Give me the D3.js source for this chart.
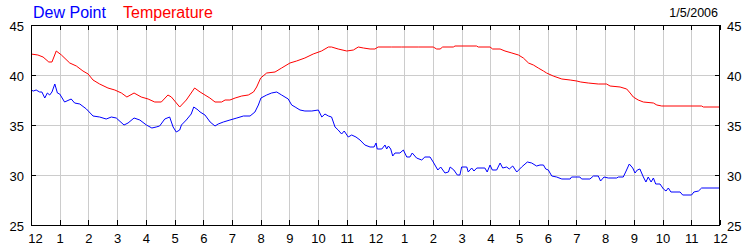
<!DOCTYPE html>
<html>
<head>
<meta charset="utf-8">
<script src="https://cdn.jsdelivr.net/npm/d3@7"></script>
<style>
  html, body { margin: 0; padding: 0; background: #fff; }
  svg { display: block; }
</style>
</head>
<body>
<svg id="chart" width="750" height="250"></svg>
<script>
// ---- data ----
const dateLabel = "1/5/2006";
const seriesNames = ["Dew Point", "Temperature"];
const xTickLabels = ["12","1","2","3","4","5","6","7","8","9","10","11","12","1","2","3","4","5","6","7","8","9","10","11","12"];
const yTicks = [25, 30, 35, 40, 45];
const yGrid = [30, 35, 40];

const tempHours = [0,0.24,0.42,0.62,0.73,0.88,1.06,1.35,1.58,1.81,1.99,2.16,2.39,2.68,2.92,3.15,3.34,3.59,3.84,4.08,4.31,4.54,4.77,4.89,5.18,5.41,5.70,5.89,6.06,6.23,6.41,6.64,6.76,6.93,7.11,7.34,7.57,7.75,7.86,8.00,8.21,8.50,8.73,9.02,9.25,9.54,9.83,10.12,10.36,10.47,10.70,11.00,11.23,11.40,11.58,11.81,11.98,12.09,12.56,12.91,13.01,13.49,14.01,14.13,14.25,14.34,14.71,14.77,15.52,15.58,15.99,16.08,16.34,16.51,16.75,16.98,17.15,17.33,17.50,17.67,17.85,17.96,18.19,18.49,18.78,19.01,19.15,19.41,19.76,20.05,20.17,20.52,20.75,20.87,20.98,21.15,21.33,21.68,21.80,21.97,23.36,23.42,24];
const tempValues = [42.1,42.0,41.8,41.3,41.3,42.4,42.0,41.2,40.9,40.4,40.1,39.5,39.1,38.7,38.5,38.2,37.8,38.2,37.8,37.6,37.3,37.3,38.0,37.8,36.8,37.5,38.7,38.3,38.0,37.7,37.3,37.3,37.5,37.5,37.7,37.9,38.0,38.3,38.8,39.7,40.2,40.3,40.7,41.2,41.4,41.7,42.1,42.4,42.8,42.8,42.6,42.4,42.5,42.8,42.7,42.6,42.6,42.8,42.8,42.8,42.8,42.8,42.8,42.6,42.6,42.8,42.8,42.9,42.9,42.8,42.8,42.6,42.6,42.4,42.2,42.0,41.7,41.2,41.0,40.7,40.4,40.2,39.9,39.6,39.5,39.4,39.3,39.2,39.1,39.1,38.9,38.8,38.6,38.2,37.8,37.5,37.3,37.2,37.0,36.9,36.9,36.8,36.8];

const dewHours = [0,0.08,0.18,0.30,0.38,0.48,0.57,0.65,0.73,0.83,0.92,1.00,1.17,1.40,1.52,1.70,1.93,2.16,2.39,2.62,2.80,2.97,3.24,3.38,3.59,3.79,4.02,4.21,4.36,4.48,4.66,4.83,4.95,5.06,5.18,5.24,5.41,5.58,5.67,5.82,5.89,6.06,6.24,6.41,6.52,6.70,6.93,7.17,7.40,7.63,7.80,7.92,8.01,8.21,8.38,8.56,8.73,8.96,9.08,9.20,9.37,9.54,9.78,10.01,10.13,10.24,10.36,10.47,10.59,10.70,10.82,10.91,11.05,11.17,11.32,11.46,11.63,11.81,11.95,12.02,12.06,12.22,12.33,12.39,12.45,12.53,12.60,12.68,12.85,12.97,13.09,13.20,13.28,13.43,13.61,13.72,13.90,14.01,14.17,14.27,14.42,14.54,14.60,14.73,14.85,14.94,15.00,15.18,15.23,15.35,15.43,15.53,15.81,15.89,15.99,16.07,16.22,16.34,16.43,16.57,16.66,16.78,16.92,17.09,17.29,17.44,17.61,17.73,17.85,17.93,18.02,18.14,18.31,18.49,18.78,18.83,19.12,19.18,19.47,19.59,19.76,19.84,19.96,20.11,20.40,20.46,20.63,20.73,20.84,20.96,21.04,21.12,21.21,21.33,21.42,21.50,21.60,21.68,21.76,21.91,22.03,22.12,22.20,22.29,22.61,22.70,23.01,23.09,23.25,23.36,24];
const dewValues = [38.5,38.4,38.5,38.3,38.3,37.7,38.2,38.0,38.3,39.1,38.2,38.1,37.3,37.6,37.2,37.1,36.6,35.9,35.8,35.6,35.8,35.7,35.0,35.2,35.7,35.5,35.0,34.7,34.8,34.9,35.6,35.8,34.8,34.3,34.5,35.0,35.5,36.1,36.8,36.5,36.3,36.0,35.3,34.9,35.1,35.3,35.5,35.7,35.9,35.9,36.3,37.0,37.7,38.0,38.2,38.3,38.0,37.6,37.0,36.8,36.5,36.4,36.4,36.5,35.8,36.1,35.9,35.8,34.8,34.5,34.1,34.4,33.8,34.0,33.8,33.5,33.0,32.8,32.8,33.2,32.6,32.6,33.0,32.6,32.9,32.6,31.9,32.2,32.2,32.5,31.8,31.8,32.2,31.7,31.5,31.8,31.8,31.3,30.5,30.8,30.2,30.3,30.8,30.5,30.0,30.0,30.8,30.8,30.3,30.7,30.4,30.7,30.7,30.3,31.0,30.5,30.5,31.2,30.7,30.8,30.6,30.9,30.3,30.8,31.3,31.2,30.9,31.0,31.0,30.6,30.5,29.9,29.8,29.6,29.6,29.8,29.8,29.6,29.6,29.9,29.9,29.4,29.8,29.7,29.7,29.8,29.8,30.4,31.1,30.7,30.2,30.5,30.6,29.8,29.3,29.8,29.3,29.7,29.1,29.1,28.6,28.4,28.7,28.3,28.3,28.0,28.0,28.3,28.4,28.7,28.7];

// ---- layout ----
const W = 750, H = 250;
const margin = { left: 31, right: 30, top: 25, bottom: 25 };
const svg = d3.select("#chart");

const x = d3.scaleLinear().domain([0, 24]).range([margin.left, W - margin.right]);
const y = d3.scaleLinear().domain([25, 45]).range([H - margin.bottom, margin.top]);

const gridColor = "#cccccc";
const tickFont = "Liberation Sans, Arial, sans-serif";

// grid
const grid = svg.append("g").attr("shape-rendering", "crispEdges");
grid.selectAll("line.vx").data(d3.range(1, 24)).enter().append("line")
  .attr("x1", d => Math.round(x(d)) + 0.5).attr("x2", d => Math.round(x(d)) + 0.5)
  .attr("y1", y(45)).attr("y2", y(25))
  .attr("stroke", gridColor).attr("stroke-width", 1);
grid.selectAll("line.hy").data(yGrid).enter().append("line")
  .attr("x1", x(0)).attr("x2", x(24))
  .attr("y1", d => Math.round(y(d)) + 0.5).attr("y2", d => Math.round(y(d)) + 0.5)
  .attr("stroke", gridColor).attr("stroke-width", 1);

// lines
const line = d3.line().x(d => x(d[0])).y(d => y(d[1]));
svg.append("path")
  .datum(dewHours.map((h, i) => [h, dewValues[i]]))
  .attr("d", line).attr("fill", "none").attr("stroke", "#0000ff").attr("stroke-width", 1);
svg.append("path")
  .datum(tempHours.map((h, i) => [h, tempValues[i]]))
  .attr("d", line).attr("fill", "none").attr("stroke", "#ff0000").attr("stroke-width", 1);

// axes
function styleAxis(g) {
  g.select(".domain").remove();
  g.selectAll(".tick line").attr("stroke", "#000").attr("shape-rendering", "crispEdges");
  g.selectAll("text").attr("fill", "#000").attr("font-family", tickFont).attr("font-size", 13);
}

const xTickVals = d3.range(0, 25);
const gb = svg.append("g").attr("transform", `translate(0,${y(25)})`)
  .call(d3.axisBottom(x).tickValues(xTickVals).tickSize(-5).tickPadding(9)
    .tickFormat((d, i) => xTickLabels[i]))
  .call(styleAxis);
gb.selectAll(".tick text").filter((d, i) => i === 0).attr("dx", 4);

svg.append("g").attr("transform", `translate(0,${y(45)})`)
  .call(d3.axisTop(x).tickValues(xTickVals).tickSize(-5).tickFormat(""))
  .call(styleAxis);

const gl = svg.append("g").attr("transform", `translate(${x(0)},0)`)
  .call(d3.axisLeft(y).tickValues(yTicks).tickSize(-5).tickPadding(7).tickFormat(d3.format("d")))
  .call(styleAxis);
gl.selectAll(".tick text").attr("dy", "0.42em");

const gr = svg.append("g").attr("transform", `translate(${x(24)},0)`)
  .call(d3.axisRight(y).tickValues(yTicks).tickSize(-5).tickPadding(7).tickFormat(d3.format("d")))
  .call(styleAxis);
gr.selectAll(".tick text").attr("dy", "0.42em");

// frame
svg.append("rect")
  .attr("x", x(0) + 0.5).attr("y", y(45) + 0.5)
  .attr("width", x(24) - x(0) - 1).attr("height", y(25) - y(45))
  .attr("fill", "none").attr("stroke", "#000").attr("stroke-width", 1)
  .attr("shape-rendering", "crispEdges");

// legend
const legendFont = "Liberation Sans, Arial, sans-serif";
svg.append("text").attr("x", 33).attr("y", 18)
  .attr("font-family", legendFont).attr("font-size", 16).attr("fill", "#0000ff")
  .text(seriesNames[0]);
svg.append("text").attr("x", 123).attr("y", 18)
  .attr("font-family", legendFont).attr("font-size", 16).attr("fill", "#ff0000")
  .text(seriesNames[1]);

// date
svg.append("text").attr("x", 718).attr("y", 17)
  .attr("text-anchor", "end")
  .attr("font-family", legendFont).attr("font-size", 12.5).attr("fill", "#000")
  .text(dateLabel);
</script>
</body>
</html>
